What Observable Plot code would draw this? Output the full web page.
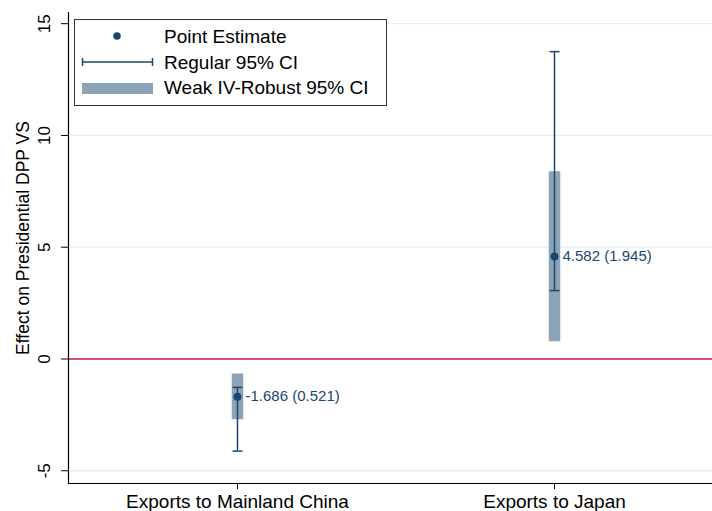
<!DOCTYPE html>
<html>
<head>
<meta charset="utf-8">
<script src="https://cdn.jsdelivr.net/npm/d3@7"></script>
<script src="https://cdn.jsdelivr.net/npm/@observablehq/plot@0.6"></script>
<style>
  html, body { margin: 0; padding: 0; background: #fff; }
  #chart { position: relative; width: 712px; height: 511px; font-family: "Liberation Sans", Arial, sans-serif; }
  #legend { position: absolute; left: 74px; top: 19px; }
</style>
</head>
<body>
<div id="chart"></div>
<script>
// Instruments and their estimated effects
const categories = ["Exports to Mainland China", "Exports to Japan"];
const estimates = [-1.686, 4.582];
const stdErrors = [0.521, 1.945];
// Thin interval with caps
const regularLow = [-4.12, 3.06];
const regularHigh = [-1.27, 13.75];
// Thick shaded interval
const robustLow = [-2.72, 0.77];
const robustHigh = [-0.67, 8.38];
// Y axis
const yTicks = [-5, 0, 5, 10, 15];
const yDomain = [-5.57, 15.5];
const yTitle = "Effect on Presidential DPP VS";
const legendLabels = ["Point Estimate", "Regular 95% CI", "Weak IV-Robust 95% CI"];

const navy = "#1a476f";
const shade = "#8ca2b7";
const zeroColor = "#cf1746";
const gridColor = "#e6eef1";

const rows = categories.map((category, i) => ({
  category,
  estimate: estimates[i],
  lo: regularLow[i],
  hi: regularHigh[i],
  rlo: robustLow[i],
  rhi: robustHigh[i],
  label: `${estimates[i].toFixed(3)} (${stdErrors[i].toFixed(3)})`
}));

// horizontal cap symbol for the interval ends
const capSymbol = {
  draw(context, size) {
    const r = Math.sqrt(size / Math.PI);
    context.moveTo(-r, 0);
    context.lineTo(r, 0);
  }
};

const chart = Plot.plot({
  width: 712,
  height: 511,
  marginLeft: 68,
  marginRight: 0,
  marginTop: 12,
  marginBottom: 28,
  style: { fontFamily: "'Liberation Sans', Arial, sans-serif", background: "white", color: "black", overflow: "visible" },
  x: { type: "point", domain: categories, padding: 0, insetLeft: 169, insetRight: 158 },
  y: { domain: yDomain },
  marks: [
    Plot.ruleY(yTicks.filter(d => d !== 0), { stroke: gridColor, strokeWidth: 1.3 }),
    Plot.ruleY([0], { stroke: zeroColor, strokeWidth: 1.6 }),
    Plot.ruleX(rows, { x: "category", y1: "rlo", y2: "rhi", stroke: shade, strokeWidth: 11.5 }),
    Plot.ruleX(rows, { x: "category", y1: "lo", y2: "hi", stroke: navy, strokeWidth: 1.5 }),
    Plot.dot(rows, { x: "category", y: "lo", symbol: capSymbol, r: 5, stroke: navy, strokeWidth: 1.5, fill: "none" }),
    Plot.dot(rows, { x: "category", y: "hi", symbol: capSymbol, r: 5, stroke: navy, strokeWidth: 1.5, fill: "none" }),
    Plot.dot(rows, { x: "category", y: "estimate", r: 4, fill: navy, stroke: null }),
    Plot.text(rows, { x: "category", y: "estimate", text: "label", textAnchor: "start", dx: 8, fill: navy, fontSize: 15 }),
    // axes
    Plot.ruleY([yDomain[0]], { stroke: "black", strokeWidth: 1.2 }),
    Plot.frame({ anchor: "left", stroke: "black", strokeWidth: 1.2 }),
    Plot.axisY(yTicks, { tickSize: 7, tickFormat: () => "", label: null, stroke: "black" }),
    Plot.text(yTicks, { y: d => d, text: d => String(d), frameAnchor: "left", textAnchor: "middle", lineAnchor: "middle", dx: -24, rotate: -90, fontSize: 17, fill: "black" }),
    Plot.text([yTitle], { text: d => d, frameAnchor: "left", textAnchor: "middle", lineAnchor: "middle", dx: -45, dy: -10, rotate: -90, fontSize: 17.5, fill: "black" }),
    Plot.axisX({ tickSize: 6, tickPadding: 5, fontSize: 19, label: null, stroke: "black", fill: "black" })
  ]
});

const root = document.getElementById("chart");
root.appendChild(chart);

// legend box
const legend = d3.create("svg")
  .attr("id", "legend")
  .attr("width", 314)
  .attr("height", 88)
  .style("font-family", "'Liberation Sans', Arial, sans-serif");
legend.append("rect").attr("x", 0.5).attr("y", 0.5).attr("width", 312).attr("height", 86)
  .attr("fill", "white").attr("stroke", "#333").attr("stroke-width", 1);
legend.append("circle").attr("cx", 43).attr("cy", 17).attr("r", 3.8).attr("fill", navy);
legend.append("line").attr("x1", 8).attr("x2", 79).attr("y1", 43).attr("y2", 43).attr("stroke", navy).attr("stroke-width", 1.5);
legend.append("line").attr("x1", 8.5).attr("x2", 8.5).attr("y1", 39).attr("y2", 47).attr("stroke", navy).attr("stroke-width", 1.5);
legend.append("line").attr("x1", 78.5).attr("x2", 78.5).attr("y1", 39).attr("y2", 47).attr("stroke", navy).attr("stroke-width", 1.5);
legend.append("rect").attr("x", 8).attr("y", 64).attr("width", 71).attr("height", 11).attr("fill", shade);
[24.3, 49.7, 75.3].forEach((baseline, i) => {
  legend.append("text").attr("x", 90).attr("y", baseline).attr("font-size", 19).attr("fill", "black").text(legendLabels[i]);
});
root.appendChild(legend.node());
</script>
</body>
</html>
